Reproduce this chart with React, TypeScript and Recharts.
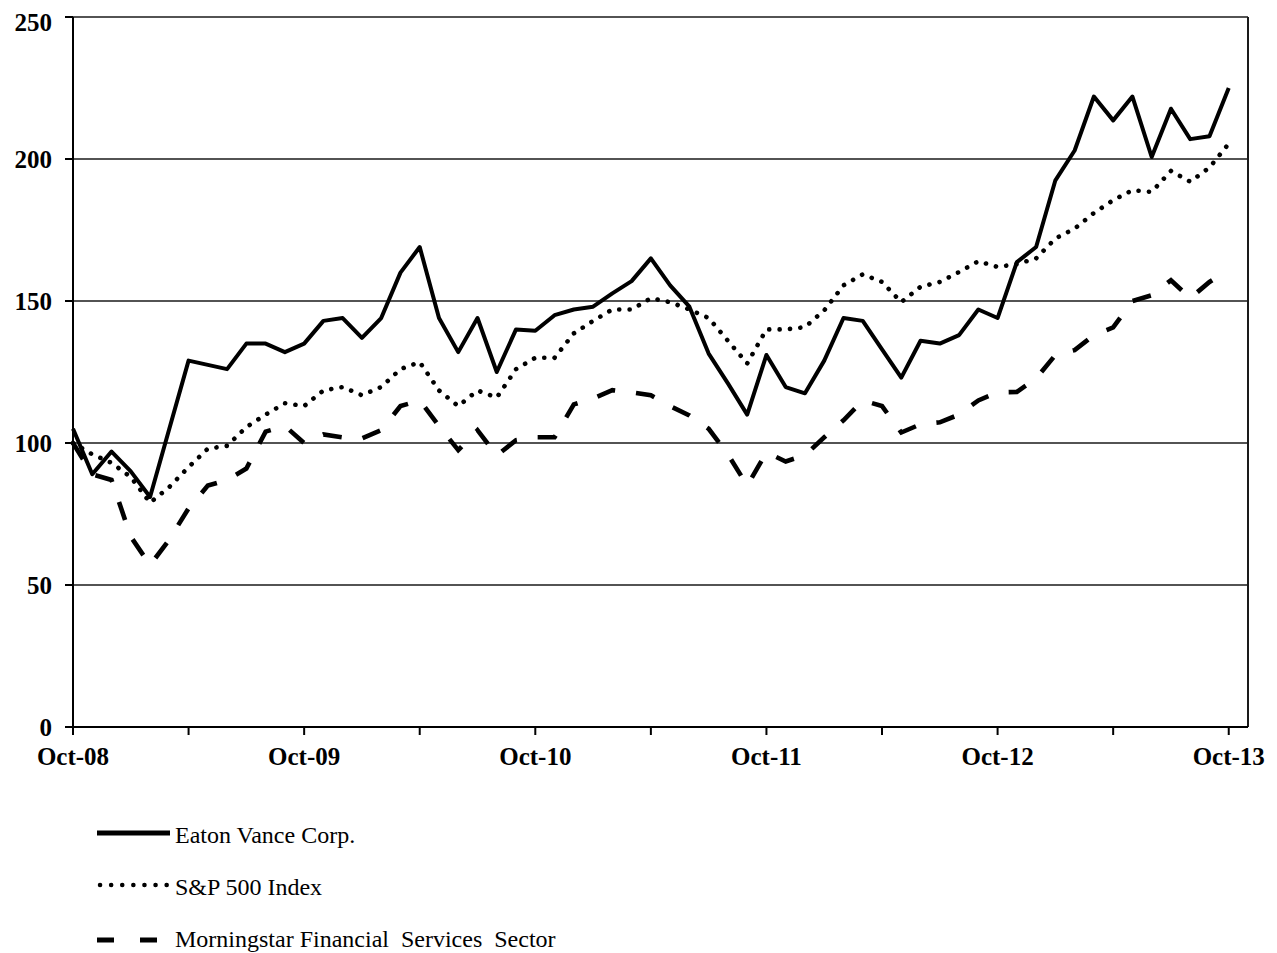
import React from "react";
import {
  LineChart,
  Line,
  XAxis,
  YAxis,
  CartesianGrid,
  ReferenceLine,
} from "recharts";

// monthly index values, Oct-08 .. Oct-13 (61 points)
const eatonVance = [
  105, 89, 97, 90, 81, 105, 129, 127.5, 126, 135, 135, 132, 135, 143, 144, 137,
  144, 160, 169, 144, 132, 144, 125, 140, 139.5, 145, 147, 148, 152.7, 157, 165,
  155.5, 148, 131.5, 121, 110, 131, 119.7, 117.5, 129, 144, 143, 133, 123, 136,
  135, 138, 147, 144, 163.7, 169, 192.5, 203, 222, 213.6, 222, 200.7, 217.7, 207,
  208, 225,
];

const sp500 = [
  100, 96, 93, 88, 79, 84.5, 91.5, 98, 99, 105.6, 110, 114, 113, 118.5, 119.7,
  116.8, 119.7, 126, 128.5, 118.5, 113, 118.5, 116, 126, 130, 130, 138.6, 143,
  147, 147, 151, 149.6, 147, 144, 136, 128, 140, 140, 140.8, 146.7, 155.5, 159.4,
  156.7, 149.6, 155, 156.7, 160.2, 164, 162, 163, 165, 172, 175.5, 181, 185.5,
  189, 188.4, 195.8, 192, 197, 205.4,
];

const morningstar = [
  100, 89, 87, 67, 57, 66, 77, 85, 87, 91, 104, 106, 100, 103, 102, 101.6, 104.5,
  113, 115, 106, 97.5, 104.5, 95.6, 101, 102, 102, 113.6, 115.7, 118.6, 117.8,
  116.8, 113, 109.7, 105, 96, 85, 96.7, 93.5, 95.7, 102, 108, 115, 113, 103.7,
  106.6, 107.3, 110, 115, 117.8, 118, 122.7, 131, 132.7, 138, 140.7, 150, 152,
  157.3, 151, 156.7, 161,
];

const yTicks = [0, 50, 100, 150, 200, 250];
const xTicks = [0, 6, 12, 18, 24, 30, 36, 42, 48, 54, 60];
const xLabels: Record<number, string> = {
  0: "Oct-08",
  12: "Oct-09",
  24: "Oct-10",
  36: "Oct-11",
  48: "Oct-12",
  60: "Oct-13",
};

const seriesNames = [
  "Eaton Vance Corp.",
  "S&P 500 Index",
  "Morningstar Financial  Services  Sector",
];

const data = eatonVance.map((v, i) => ({
  m: i,
  eaton: v,
  sp: sp500[i],
  ms: morningstar[i],
}));

const serif = "'Liberation Serif', 'Times New Roman', serif";
const tickStyle = { fontSize: 25, fontWeight: 700, fill: "#000", fontFamily: serif };

const DOTS = "0.1 10.3";
const DASHES = "19 21";

export default function App() {
  return (
    <div style={{ position: "relative", width: 1261, height: 945, background: "#fff" }}>
      <LineChart
        width={1261}
        height={780}
        data={data}
        margin={{ top: 9, right: 21, bottom: 11, left: 0 }}
      >
        <CartesianGrid vertical={false} stroke="#1a1a1a" strokeWidth={1.7} />
        <XAxis
          type="number"
          dataKey="m"
          domain={[0, 61]}
          ticks={xTicks}
          interval={0}
          tickFormatter={(v) => xLabels[v] ?? ""}
          height={50}
          tickSize={8}
          tickMargin={12}
          tick={tickStyle}
          stroke="#000"
          strokeWidth={2}
          tickLine={{ stroke: "#000", strokeWidth: 2 }}
        />
        <YAxis
          domain={[0, 250]}
          ticks={yTicks}
          width={65}
          tickSize={8}
          tickMargin={13}
          tick={tickStyle}
          stroke="#000"
          strokeWidth={2}
          tickLine={{ stroke: "#000", strokeWidth: 2 }}
        />
        <ReferenceLine x={61} stroke="#1a1a1a" strokeWidth={2} />
        <Line
          dataKey="ms"
          type="linear"
          stroke="#000"
          strokeWidth={4.6}
          strokeDasharray={DASHES}
          dot={false}
          isAnimationActive={false}
        />
        <Line
          dataKey="sp"
          type="linear"
          stroke="#000"
          strokeWidth={4.6}
          strokeLinecap="round"
          strokeDasharray={DOTS}
          dot={false}
          isAnimationActive={false}
        />
        <Line
          dataKey="eaton"
          type="linear"
          stroke="#000"
          strokeWidth={4}
          strokeLinejoin="round"
          dot={false}
          isAnimationActive={false}
        />
      </LineChart>
      <svg
        width={700}
        height={165}
        style={{ position: "absolute", left: 0, top: 780 }}
      >
        <g fontFamily={serif} fontSize={24} fill="#000">
          <line x1={89} x2={162} y1={45} y2={45} stroke="#000" strokeWidth={5} />
          <text x={167} y={55}>{seriesNames[0]}</text>
          <line
            x1={92}
            x2={160}
            y1={97}
            y2={97}
            stroke="#000"
            strokeWidth={4.5}
            strokeLinecap="round"
            strokeDasharray="0.1 11"
          />
          <text x={167} y={107}>{seriesNames[1]}</text>
          <line
            x1={89}
            x2={155}
            y1={152}
            y2={152}
            stroke="#000"
            strokeWidth={5}
            strokeDasharray="17 26"
          />
          <text x={167} y={159} style={{ whiteSpace: "pre" }}>{seriesNames[2]}</text>
        </g>
      </svg>
    </div>
  );
}
